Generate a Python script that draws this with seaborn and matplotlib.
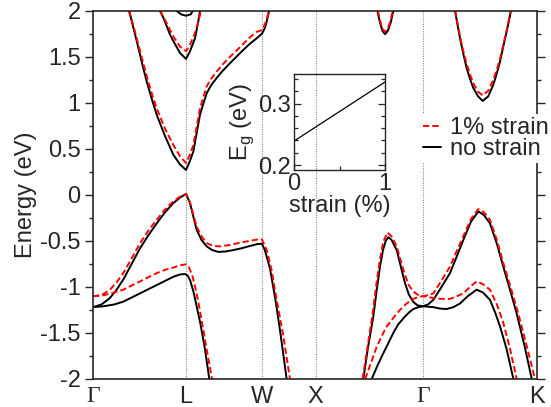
import pandas as pd
import matplotlib
matplotlib.use("Agg")
import matplotlib.pyplot as plt
import seaborn as sns
from matplotlib.lines import Line2D
from matplotlib.ticker import MultipleLocator

# high-symmetry points along the fcc path (units of 2pi/a)
kpoint_labels = ["Γ", "L", "W", "X", "Γ", "K"]
kpoint_pos = [0.0, 0.866, 1.573, 2.073, 3.073, 4.134]

energy_ticks = [-2, -1.5, -1, -0.5, 0, 0.5, 1, 1.5, 2]
energy_labels = ["-2", "-1.5", "-1", "-0.5", "0", "0.5", "1", "1.5", "2"]

# ---- bands without strain, (k, E[eV]) ----
vb1_none = [(0, -1.22), (0.08, -1.19), (0.158, -1.12), (0.22, -1.03), (0.282, -0.92),
            (0.36, -0.75), (0.438, -0.58), (0.515, -0.44), (0.593, -0.31), (0.67, -0.19),
            (0.748, -0.09), (0.81, -0.03), (0.866, 0.01), (0.903, -0.09), (0.935, -0.24),
            (0.965, -0.38), (1.01, -0.49), (1.058, -0.56), (1.11, -0.60), (1.167, -0.62),
            (1.236, -0.615), (1.306, -0.60), (1.384, -0.58), (1.462, -0.555), (1.53, -0.535),
            (1.573, -0.53), (1.60, -0.60), (1.648, -0.80), (1.70, -1.15), (1.741, -1.47),
            (1.803, -2.0)]
vb2_none = [(0, -1.22), (0.1, -1.21), (0.2, -1.19), (0.282, -1.16), (0.36, -1.115),
            (0.438, -1.07), (0.515, -1.025), (0.593, -0.98), (0.67, -0.935), (0.748, -0.89),
            (0.81, -0.865), (0.857, -0.86), (0.88, -0.875), (0.905, -0.93), (0.935, -1.05),
            (0.965, -1.21), (1.0, -1.40), (1.04, -1.66), (1.083, -2.0)]
vb3_none = [(2.517, -2.0), (2.56, -1.66), (2.61, -1.32), (2.64, -1.05), (2.672, -0.78),
            (2.70, -0.60), (2.725, -0.50), (2.75, -0.46), (2.78, -0.49), (2.81, -0.56),
            (2.828, -0.60), (2.866, -0.78), (2.905, -0.96), (2.94, -1.08), (2.98, -1.16),
            (3.02, -1.20), (3.073, -1.21), (3.12, -1.19), (3.169, -1.14), (3.24, -1.01),
            (3.324, -0.85), (3.39, -0.66), (3.448, -0.49), (3.52, -0.29), (3.588, -0.18),
            (3.64, -0.22), (3.696, -0.31), (3.76, -0.53), (3.82, -0.78), (3.88, -1.02),
            (3.945, -1.29), (4.02, -1.65), (4.085, -2.0)]
vb4_none = [(2.595, -2.0), (2.65, -1.85), (2.703, -1.72), (2.75, -1.61), (2.796, -1.50),
            (2.84, -1.41), (2.89, -1.34), (2.94, -1.28), (2.982, -1.24), (3.03, -1.22),
            (3.073, -1.21), (3.12, -1.215), (3.169, -1.22), (3.23, -1.235), (3.293, -1.24),
            (3.355, -1.22), (3.417, -1.18), (3.49, -1.10), (3.572, -1.03), (3.63, -1.06),
            (3.696, -1.14), (3.745, -1.28), (3.79, -1.43), (3.852, -1.68), (3.914, -2.0)]
cb1_none = [(0.338, 2.0), (0.37, 1.84), (0.407, 1.67), (0.45, 1.46), (0.5, 1.23),
            (0.545, 1.05), (0.593, 0.87), (0.67, 0.64), (0.748, 0.435), (0.81, 0.33),
            (0.866, 0.27), (0.90, 0.36), (0.934, 0.47), (0.965, 0.67), (0.996, 0.87),
            (1.03, 1.0), (1.059, 1.105), (1.10, 1.19), (1.152, 1.27), (1.21, 1.35),
            (1.276, 1.43), (1.34, 1.505), (1.40, 1.575), (1.46, 1.64), (1.524, 1.70),
            (1.573, 1.75), (1.60, 1.81), (1.617, 1.88), (1.64, 2.0)]
cb2_none = [(0.627, 2.0), (0.67, 1.88), (0.717, 1.74), (0.748, 1.67), (0.81, 1.54),
            (0.866, 1.475), (0.903, 1.56), (0.95, 1.70), (0.98, 1.88), (0.996, 2.0)]
cb3_none = [(0.776, 2.0), (0.82, 1.96), (0.866, 1.945), (0.91, 1.96), (0.93, 2.0)]
cb4_none = [(2.647, 2.0), (2.672, 1.87), (2.695, 1.78), (2.719, 1.745), (2.745, 1.78),
            (2.772, 1.87), (2.796, 2.0)]
cb5_none = [(3.37, 2.0), (3.417, 1.70), (3.448, 1.53), (3.479, 1.377), (3.51, 1.26),
            (3.541, 1.16), (3.585, 1.07), (3.628, 1.02), (3.68, 1.07), (3.727, 1.196),
            (3.76, 1.32), (3.79, 1.45), (3.82, 1.61), (3.852, 1.775), (3.892, 2.0)]

# ---- bands with 1% strain ----
vb1_strain = [(0, -1.10), (0.05, -1.095), (0.1, -1.075), (0.158, -1.03), (0.22, -0.95),
              (0.282, -0.85), (0.36, -0.69), (0.438, -0.525), (0.515, -0.39), (0.593, -0.27),
              (0.67, -0.16), (0.748, -0.07), (0.81, -0.02), (0.866, 0.01), (0.903, -0.08),
              (0.935, -0.22), (0.965, -0.345), (1.01, -0.45), (1.058, -0.525), (1.12, -0.555),
              (1.182, -0.56), (1.27, -0.545), (1.369, -0.52), (1.46, -0.50), (1.555, -0.48),
              (1.573, -0.485), (1.617, -0.60), (1.66, -0.80), (1.71, -1.14), (1.77, -1.52),
              (1.834, -2.0)]
vb2_strain = [(0, -1.10), (0.1, -1.09), (0.2, -1.06), (0.282, -1.03), (0.36, -0.985),
              (0.438, -0.94), (0.515, -0.895), (0.593, -0.85), (0.67, -0.815), (0.748, -0.79),
              (0.81, -0.765), (0.866, -0.755), (0.895, -0.79), (0.925, -0.88), (0.955, -1.02),
              (0.985, -1.19), (1.02, -1.42), (1.06, -1.69), (1.108, -2.0)]
vb3_strain = [(2.51, -2.0), (2.56, -1.62), (2.605, -1.28), (2.635, -1.0), (2.666, -0.74),
              (2.70, -0.52), (2.74, -0.41), (2.78, -0.45), (2.828, -0.56), (2.866, -0.72),
              (2.905, -0.87), (2.94, -0.98), (2.982, -1.05), (3.03, -1.09), (3.073, -1.10),
              (3.12, -1.09), (3.169, -1.07), (3.24, -0.94), (3.324, -0.78), (3.39, -0.60),
              (3.448, -0.45), (3.52, -0.26), (3.588, -0.155), (3.64, -0.19), (3.696, -0.27),
              (3.76, -0.49), (3.82, -0.74), (3.89, -1.01), (3.96, -1.29), (4.04, -1.65),
              (4.115, -2.0)]
vb4_strain = [(2.533, -2.0), (2.59, -1.82), (2.641, -1.65), (2.69, -1.53), (2.734, -1.43),
              (2.80, -1.33), (2.858, -1.25), (2.92, -1.18), (2.982, -1.13), (3.03, -1.11),
              (3.073, -1.10), (3.12, -1.11), (3.169, -1.12), (3.24, -1.13), (3.324, -1.13),
              (3.39, -1.10), (3.448, -1.07), (3.51, -1.00), (3.572, -0.94), (3.63, -0.97),
              (3.696, -1.03), (3.76, -1.19), (3.82, -1.39), (3.88, -1.66), (3.945, -2.0)]
cb1_strain = [(0.332, 2.0), (0.37, 1.86), (0.407, 1.70), (0.45, 1.51), (0.5, 1.29),
              (0.545, 1.11), (0.593, 0.94), (0.67, 0.72), (0.748, 0.54), (0.81, 0.42),
              (0.866, 0.345), (0.90, 0.43), (0.934, 0.54), (0.965, 0.74), (0.996, 0.94),
              (1.03, 1.07), (1.059, 1.18), (1.10, 1.26), (1.152, 1.34), (1.21, 1.42),
              (1.276, 1.50), (1.34, 1.57), (1.40, 1.64), (1.46, 1.71), (1.524, 1.77),
              (1.573, 1.79), (1.60, 1.85), (1.62, 1.92), (1.64, 2.0)]
cb2_strain = [(0.62, 2.0), (0.67, 1.90), (0.717, 1.79), (0.748, 1.72), (0.81, 1.61),
              (0.866, 1.56), (0.903, 1.63), (0.95, 1.76), (0.985, 1.90), (1.005, 2.0)]
cb4_strain = [(2.652, 2.0), (2.675, 1.88), (2.697, 1.80), (2.719, 1.77), (2.742, 1.80),
              (2.768, 1.88), (2.791, 2.0)]
cb5_strain = [(3.372, 2.0), (3.417, 1.72), (3.448, 1.56), (3.479, 1.42), (3.51, 1.31),
              (3.541, 1.21), (3.585, 1.12), (3.628, 1.08), (3.68, 1.13), (3.727, 1.25),
              (3.76, 1.36), (3.79, 1.48), (3.82, 1.63), (3.852, 1.79), (3.89, 2.0)]

# inset: band gap vs strain
inset_strain = [0.0, 1.0]
inset_gap = [0.239, 0.335]


def to_frame(bands, label):
    rows = []
    for i, pts in enumerate(bands):
        for k, e in pts:
            rows.append((k, e, f"{label}-{i}", label))
    return pd.DataFrame(rows, columns=["k", "E", "band", "strain"])


df_none = to_frame([vb1_none, vb2_none, vb3_none, vb4_none,
                    cb1_none, cb2_none, cb3_none, cb4_none, cb5_none], "no strain")
df_strain = to_frame([vb1_strain, vb2_strain, vb3_strain, vb4_strain,
                      cb1_strain, cb2_strain, cb4_strain, cb5_strain], "1% strain")

sns.set_style("ticks")
plt.rcParams["font.family"] = ["Liberation Sans", "DejaVu Sans"]
plt.rcParams["font.size"] = 17

fig = plt.figure(figsize=(5.51, 4.07), dpi=100)
ax = fig.add_axes([0.1688, 0.0688, 0.8058, 0.905])

for xv in kpoint_pos[1:-1]:
    ax.axvline(xv, color="#888888", lw=0.8, ls=(0, (1, 1.2)), zorder=0)

sns.lineplot(data=df_none, x="k", y="E", units="band", estimator=None, sort=False,
             color="black", lw=1.4, ax=ax, legend=False)
sns.lineplot(data=df_strain, x="k", y="E", units="band", estimator=None, sort=False,
             color="red", lw=1.4, linestyle=(0, (3.2, 1.6)), ax=ax, legend=False)

ax.set_xlim(kpoint_pos[0], kpoint_pos[-1])
ax.set_ylim(-2, 2)
ax.set_xticks(kpoint_pos)
ax.set_xticklabels(kpoint_labels)
for lab in ax.get_xticklabels():
    if lab.get_text() == "Γ":
        lab.set_fontfamily(["Liberation Serif", "DejaVu Serif"])
ax.tick_params(axis="x", length=0, pad=5, labelsize=17)
ax.set_yticks(energy_ticks)
ax.set_yticklabels(energy_labels)
ax.yaxis.set_minor_locator(MultipleLocator(0.25))
ax.tick_params(axis="y", which="major", direction="out", length=5.5, width=1,
               right=True, labelsize=17, pad=3.5)
ax.tick_params(axis="y", which="minor", direction="out", length=3, width=1, right=True)
ax.set_xlabel("")
ax.set_ylabel("Energy (eV)", fontsize=17, labelpad=2)
for sp in ax.spines.values():
    sp.set_linewidth(1.2)

# legend sits on a white patch that hides the spine and the dotted guide
handles = [Line2D([], [], color="red", lw=1.4, ls=(0, (3.2, 1.6))),
           Line2D([], [], color="black", lw=1.4)]
leg = ax.legend(handles, ["1% strain", "no strain"], loc="upper left",
                bbox_to_anchor=(0.735, 0.7207), frameon=True, fontsize=17,
                handlelength=0.75, handletextpad=0.4, labelspacing=-0.05,
                borderaxespad=0, borderpad=0.15, fancybox=False)
leg.get_frame().set_facecolor("white")
leg.get_frame().set_edgecolor("none")
leg.get_frame().set_alpha(1)

# inset
axi = fig.add_axes([0.5336, 0.5823, 0.1652, 0.2359])
axi.set_facecolor("none")
sns.lineplot(x=inset_strain, y=inset_gap, color="black", lw=0.9, ax=axi)
axi.set_xlim(0, 1)
axi.set_ylim(0.192, 0.348)
axi.set_xticks([0, 1])
axi.set_xticklabels(["0", "1"])
axi.set_yticks([0.2, 0.3])
axi.set_yticklabels(["0.2", "0.3"])
axi.xaxis.set_minor_locator(MultipleLocator(0.5))
axi.yaxis.set_minor_locator(MultipleLocator(0.02))
axi.tick_params(which="major", direction="in", length=5, width=0.9, right=True,
                labelsize=17, pad=2)
axi.tick_params(which="minor", direction="in", length=3, width=0.9, right=True)
axi.set_xlabel("strain (%)", fontsize=17, labelpad=0)
axi.set_ylabel("E$_\\mathregular{g}$ (eV)", fontsize=17, labelpad=2)
for sp in axi.spines.values():
    sp.set_linewidth(1.0)

fig.savefig("out.png", dpi=100)
